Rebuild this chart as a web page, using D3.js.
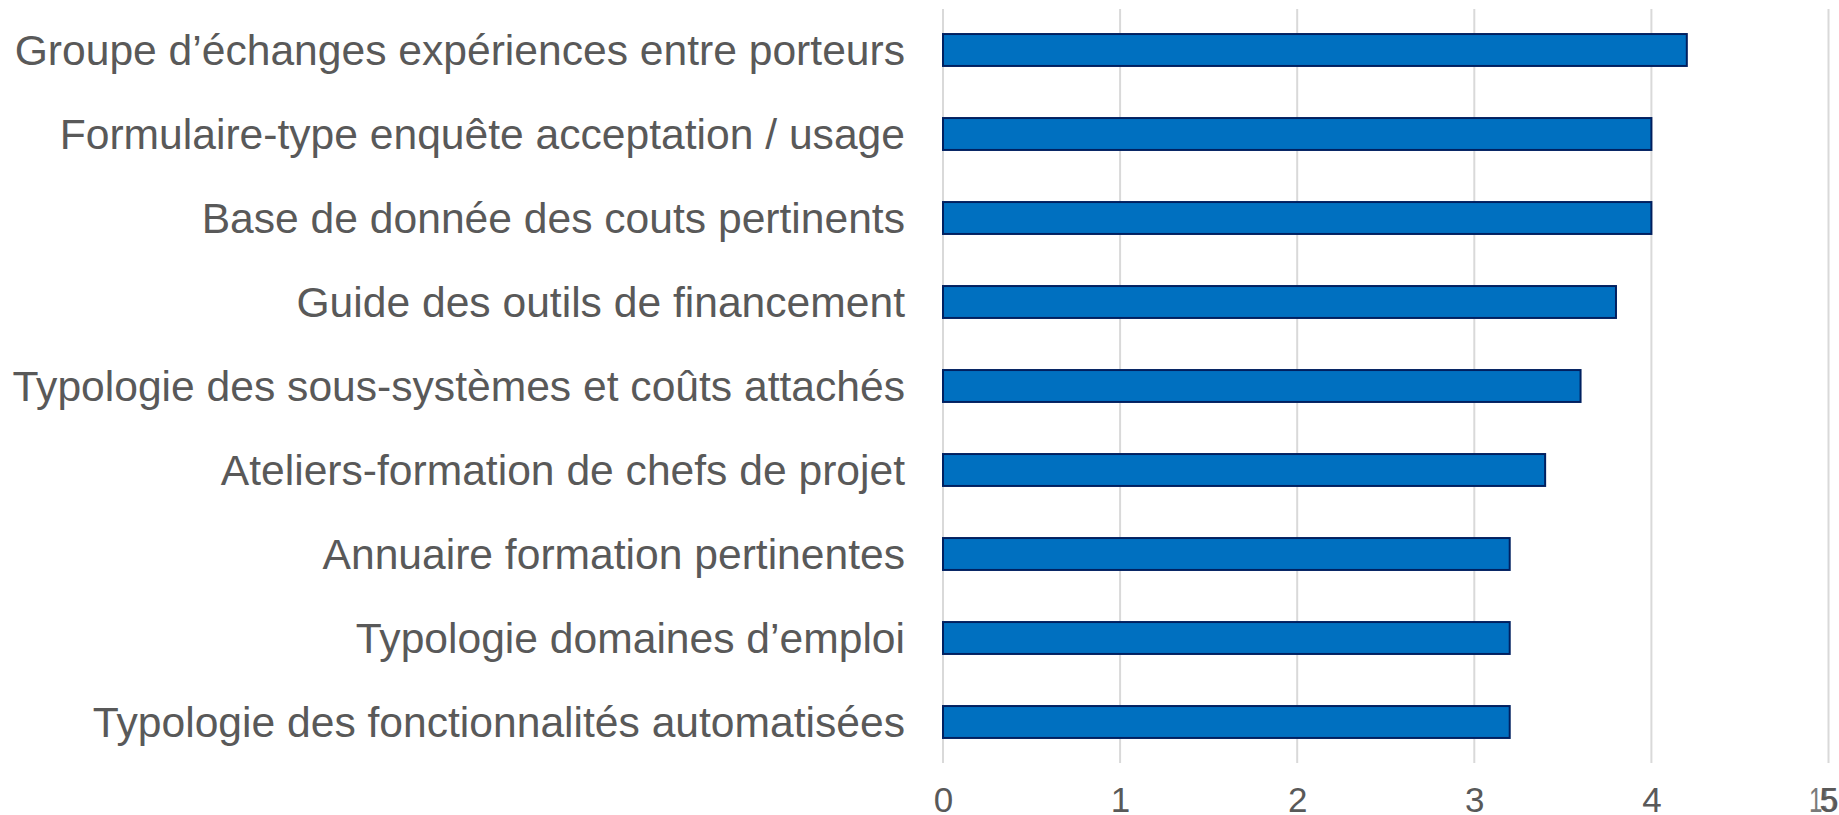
<!DOCTYPE html>
<html lang="fr">
<head>
<meta charset="utf-8">
<title>Outils</title>
<script src="https://cdn.jsdelivr.net/npm/d3@7"></script>
<style>
  body { margin: 0; background: #fff; }
  text { font-family: "Liberation Sans", Arial, sans-serif; fill: #595959; }
</style>
</head>
<body>
<script>
const categories = [
  "Groupe d\u2019échanges expériences entre porteurs",
  "Formulaire-type enquête acceptation / usage",
  "Base de donnée des couts pertinents",
  "Guide des outils de financement",
  "Typologie des sous-systèmes et coûts attachés",
  "Ateliers-formation de chefs de projet",
  "Annuaire formation pertinentes",
  "Typologie domaines d\u2019emploi",
  "Typologie des fonctionnalités automatisées"
];
const values = [4.2, 4, 4, 3.8, 3.6, 3.4, 3.2, 3.2, 3.2];
const tickValues = [0, 1, 2, 3, 4, 5];
const pageNumber = "15";

let w = 1839;
let h = 815;

let svg = d3.select("body").append("svg")
  .attr("width", w)
  .attr("height", h);

let xScale = d3.scaleLinear()
  .domain([0, 5])
  .range([943, 1828.5]);

let yScale = d3.scaleBand()
  .domain(categories)
  .range([8, 764])
  .paddingInner(0.62)
  .paddingOuter(0.31);

// gridlines
svg.append("g")
  .selectAll("line")
  .data(tickValues)
  .enter()
  .append("line")
  .attr("x1", d => xScale(d))
  .attr("x2", d => xScale(d))
  .attr("y1", 9)
  .attr("y2", 763)
  .attr("stroke", "#d9d9d9")
  .attr("stroke-width", 2);

// bars
svg.append("g")
  .selectAll("rect")
  .data(values)
  .enter()
  .append("rect")
  .attr("x", xScale(0))
  .attr("y", (d, i) => yScale(categories[i]))
  .attr("width", d => xScale(d) - xScale(0))
  .attr("height", yScale.bandwidth())
  .attr("fill", "#0070c0")
  .attr("stroke", "#002060")
  .attr("stroke-width", 2);

// category labels
svg.append("g")
  .selectAll("text")
  .data(categories)
  .enter()
  .append("text")
  .attr("x", 905)
  .attr("y", d => yScale(d) + yScale.bandwidth() / 2)
  .attr("dy", "0.36em")
  .attr("text-anchor", "end")
  .style("font-size", "42.6px")
  .text(d => d);

// x axis
let xAxis = d3.axisBottom(xScale)
  .tickValues(tickValues)
  .tickSize(0)
  .tickPadding(0)
  .tickFormat(d3.format("d"));

let axisG = svg.append("g")
  .attr("transform", "translate(0,812)")
  .call(xAxis);
axisG.select(".domain").remove();
axisG.selectAll("text")
  .attr("dy", 0)
  .attr("y", 0)
  .style("font-size", "35px")
  .style("font-family", "'Liberation Sans', Arial, sans-serif")
  .attr("fill", "#595959");

// slide number
svg.append("text")
  .attr("x", 1809)
  .attr("y", 812)
  .attr("textLength", 27)
  .attr("lengthAdjust", "spacingAndGlyphs")
  .style("font-size", "35px")
  .attr("fill", "#767676")
  .style("opacity", 0.8)
  .text(pageNumber);
</script>
</body>
</html>
